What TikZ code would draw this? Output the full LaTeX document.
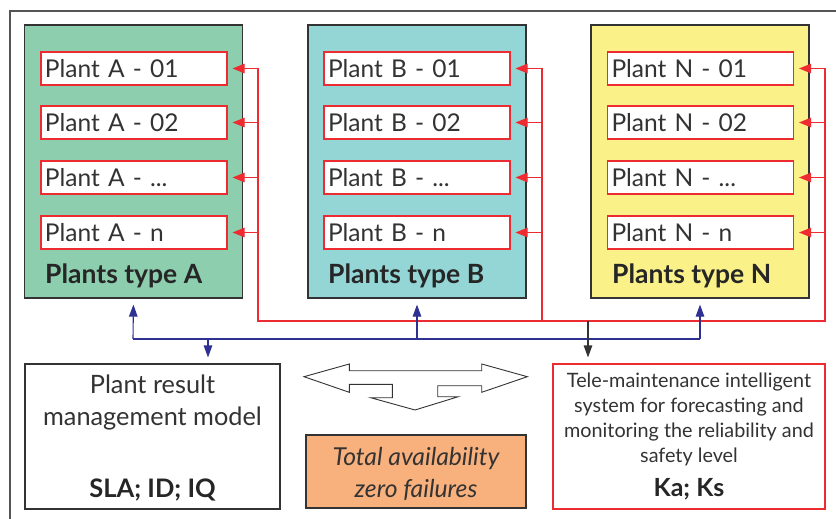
\documentclass[tikz,border=0pt]{standalone}
\usepackage{fontspec}
\setmainfont{Lato}
\usetikzlibrary{arrows.meta}
\definecolor{txt}{HTML}{333333}
\definecolor{frame}{HTML}{555555}
\definecolor{gbox}{HTML}{8DCEAE}
\definecolor{cbox}{HTML}{93D6D5}
\definecolor{ybox}{HTML}{FAF189}
\definecolor{obox}{HTML}{F8B07C}
\definecolor{redl}{HTML}{EE2B30}
\definecolor{bluel}{HTML}{2E3192}
\tikzset{
  groupbox/.style={draw=txt, line width=1.2pt, minimum width=218pt, minimum height=273pt, inner sep=0pt},
  plantbox/.style={draw=redl, fill=white, line width=1.1pt, minimum height=33pt, text width=178pt, inner xsep=4pt, inner ysep=0pt, align=left, font=\fontsize{24.5}{28}\selectfont, text=txt},
  grouplabel/.style={anchor=base west, inner sep=0pt, font=\fontsize{26.5}{30}\selectfont\bfseries, text=black!85},
  redline/.style={draw=redl, line width=1.1pt},
  redarr/.style={draw=redl, line width=1.1pt, -{Triangle[length=12pt,width=9.5pt]}, shorten >=5pt},
  bluearr/.style={draw=bluel, line width=1.1pt, -{Triangle[length=12pt,width=8.5pt]}, shorten >=6pt},
  blackarr/.style={draw=txt, line width=1.1pt, -{Triangle[length=12pt,width=8.5pt]}, shorten >=6pt},
  txtline/.style={anchor=base, inner sep=0pt, text=txt},
}
\begin{document}
\begin{tikzpicture}[x=1pt,y=-1pt]
\useasboundingbox (0,0) rectangle (836,519);
% outer frame
\draw[frame, line width=1.3pt] (10,519) -- (10,11) -- (836,11);

% groups
\node[groupbox, fill=gbox] (ga) at (133.5,161.5) {};
\node[groupbox, fill=cbox] (gb) at (417,161.5) {};
\node[groupbox, fill=ybox] (gn) at (700,161.5) {};

% plant boxes
\node[plantbox] (a1) at (134,68.5) {Plant A - 01};
\node[plantbox] (a2) at (134,122.5) {Plant A - 02};
\node[plantbox] (a3) at (134,177.5) {Plant A - ...};
\node[plantbox] (a4) at (134,232.5) {Plant A - n};
\node[plantbox] (b1) at (417,68.5) {Plant B - 01};
\node[plantbox] (b2) at (417,122.5) {Plant B - 02};
\node[plantbox] (b3) at (417,177.5) {Plant B - ...};
\node[plantbox] (b4) at (417,232.5) {Plant B - n};
\node[plantbox] (n1) at (700.5,68.5) {Plant N - 01};
\node[plantbox] (n2) at (700.5,122.5) {Plant N - 02};
\node[plantbox] (n3) at (700.5,177.5) {Plant N - ...};
\node[plantbox] (n4) at (700.5,232.5) {Plant N - n};

\node[grouplabel] (la) at (45,283) {Plants type A};
\node[grouplabel] (lb) at (328,283) {Plants type B};
\node[grouplabel] (ln) at (612,283) {Plants type N};

% red distribution
\coordinate (ra) at (258,321);
\coordinate (rb) at (542,321);
\coordinate (rn) at (825,321);
\draw[redline] (ra |- a1.east) -- (ra) -- (rn) -- (rn |- n1.east);
\draw[redline] (rb |- b1.east) -- (rb);
\foreach \p in {a1,a2,a3,a4} \draw[redarr] (ra |- \p.east) -- (\p.east);
\foreach \p in {b1,b2,b3,b4} \draw[redarr] (rb |- \p.east) -- (\p.east);
\foreach \p in {n1,n2,n3,n4} \draw[redarr] (rn |- \p.east) -- (\p.east);

% bottom boxes
\node[draw=txt, line width=1.1pt, fill=white, minimum width=255pt, minimum height=145pt, inner sep=0pt] (res) at (152.5,436.5) {};
\node[txtline, font=\fontsize{25.3}{28}\selectfont] (r1) at (152.5,393) {Plant result};
\node[txtline, font=\fontsize{25.3}{28}\selectfont] (r2) at (152.5,425) {management model};
\node[txtline, font=\fontsize{25.5}{28}\selectfont\bfseries, text=black!85] (r3) at (152.5,497) {SLA; ID; IQ};

\node[draw=redl, line width=1.1pt, fill=white, minimum width=272pt, minimum height=145pt, inner sep=0pt] (tele) at (689,436.5) {};
\node[txtline, font=\fontsize{19.8}{22}\selectfont] (t1) at (689,387) {Tele-maintenance intelligent};
\node[txtline, font=\fontsize{19.8}{22}\selectfont] (t2) at (689,412) {system for forecasting and};
\node[txtline, font=\fontsize{19.8}{22}\selectfont] (t3) at (689,437) {monitoring the reliability and};
\node[txtline, font=\fontsize{19.8}{22}\selectfont] (t4) at (689,462) {safety level};
\node[txtline, font=\fontsize{25}{28}\selectfont\bfseries, text=black!85] (t5) at (689,496) {Ka; Ks};

\node[draw=txt, line width=1.1pt, fill=obox, minimum width=220pt, minimum height=73pt, inner sep=0pt] (tot) at (416,471.5) {};
\node[txtline, font=\fontsize{24.7}{28}\selectfont\itshape] (o1) at (416,465) {Total availability};
\node[txtline, font=\fontsize{24.7}{28}\selectfont\itshape] (o2) at (416,497) {zero failures};

% blue connectors
\coordinate (bl) at (133,339);
\coordinate (br) at (700,339);
\draw[draw=bluel, line width=1.1pt] (bl) -- (br);
\draw[bluearr] (bl) -- (ga.south);
\draw[bluearr] (gb.south |- bl) -- (gb.south);
\draw[bluearr] (br) -- (gn.south);
\coordinate (bd) at (208,339);
\draw[bluearr] (bd) -- (bd |- res.north);

% black connector
\coordinate (bk) at (588,321);
\draw[blackarr] (bk) -- (bk |- tele.north);

% triple arrow shape
\draw[draw=txt, line width=0.9pt, fill=white, line join=miter]
  (304,376.7) -- (349.3,364) -- (349.3,370.7) -- (481.7,370.7) -- (481.7,364)
  -- (527.3,376.7) -- (481.7,392.3) -- (481.7,385.7) -- (437.7,385.7)
  -- (437.7,396.7) -- (458.3,396.7) -- (415,410) -- (370.7,397.7)
  -- (392.3,397.7) -- (392.3,384.3) -- (349.3,384.3) -- (349.3,392.3) -- cycle;
\end{tikzpicture}
\end{document}
